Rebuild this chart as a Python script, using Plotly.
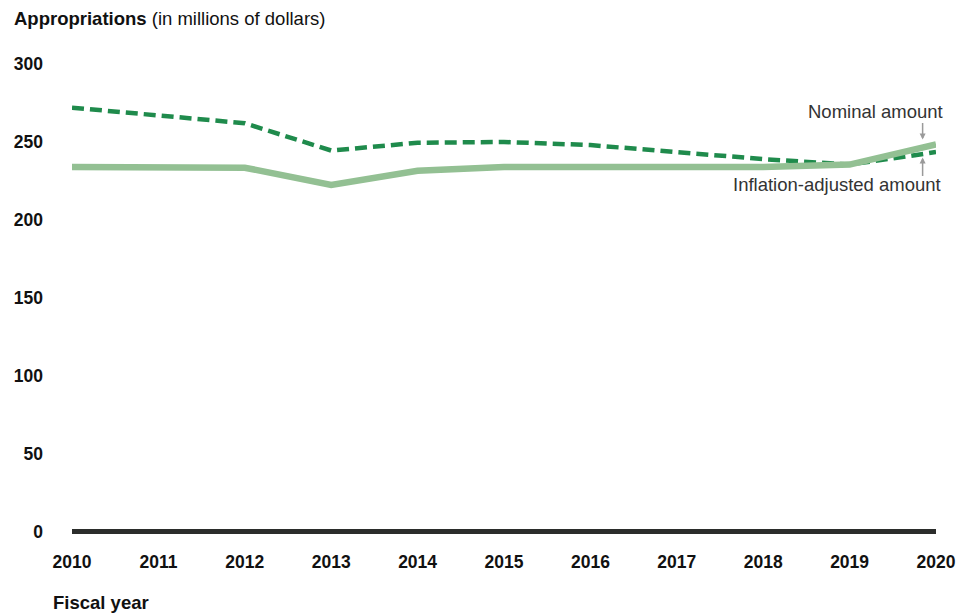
import plotly.graph_objects as go

years = [2010, 2011, 2012, 2013, 2014, 2015, 2016, 2017, 2018, 2019, 2020]
nominal = [234, 234, 233.5, 222.5, 231.5, 234, 234, 234, 234, 235.5, 248.5]
inflation_adjusted = [272, 267, 262, 244.5, 249.5, 250, 248, 243.5, 239, 235.5, 243.5]
y_ticks = [0, 50, 100, 150, 200, 250, 300]

FONT = "Liberation Sans, Arial, sans-serif"
TEXT = "#111111"

fig = go.Figure()
fig.add_trace(
    go.Scatter(
        x=years,
        y=inflation_adjusted,
        mode="lines",
        line=dict(color="#1f8b4c", width=4.5, dash="12px,6px"),
        name="Inflation-adjusted amount",
        cliponaxis=False,
    )
)
fig.add_trace(
    go.Scatter(
        x=years,
        y=nominal,
        mode="lines",
        line=dict(color="#93c093", width=6.5),
        name="Nominal amount",
        cliponaxis=False,
    )
)

fig.update_layout(
    width=972,
    height=614,
    margin=dict(l=72, r=36, t=64, b=76),
    plot_bgcolor="white",
    paper_bgcolor="white",
    showlegend=False,
    font=dict(family=FONT, color=TEXT),
    xaxis=dict(
        range=[2010, 2020],
        tickvals=years,
        showgrid=False,
        zeroline=False,
        showline=False,
        ticks="",
        ticklabelstandoff=11,
        tickfont=dict(size=17.5, weight="bold", color=TEXT),
    ),
    yaxis=dict(
        range=[-4, 300],
        tickvals=y_ticks,
        showgrid=False,
        zeroline=True,
        zerolinecolor="#2b2d2b",
        zerolinewidth=5,
        showline=False,
        ticks="",
        ticklabelstandoff=28,
        tickfont=dict(size=17.5, weight="bold", color=TEXT),
    ),
)

fig.add_annotation(
    x=0, y=1, xref="paper", yref="paper", xshift=-60, yshift=46,
    text="<b>Appropriations</b> (in millions of dollars)",
    showarrow=False, xanchor="left", yanchor="middle",
    font=dict(size=18.5, color=TEXT),
)
fig.add_annotation(
    x=0, y=0, xref="paper", yref="paper", xshift=-21, yshift=-64,
    text="<b>Fiscal year</b>",
    showarrow=False, xanchor="left", yanchor="middle",
    font=dict(size=18.5, color=TEXT),
)

# callout labels
fig.add_annotation(
    x=2020, y=269.3, text="Nominal amount", showarrow=False,
    xanchor="right", yanchor="middle", xshift=9,
    font=dict(size=18.5, color="#333333"),
)
fig.add_annotation(
    x=2020, y=222.5, text="Inflation-adjusted amount", showarrow=False,
    xanchor="right", yanchor="middle", xshift=7,
    font=dict(size=18.5, color="#333333"),
)
# small gray arrows
fig.add_annotation(
    x=2019.845, y=251.5, text="", showarrow=True,
    arrowhead=2, arrowsize=0.8, arrowwidth=1.5, arrowcolor="#9a9a9a",
    ax=0, ay=-18,
)
fig.add_annotation(
    x=2019.845, y=240, text="", showarrow=True,
    arrowhead=2, arrowsize=0.8, arrowwidth=1.5, arrowcolor="#9a9a9a",
    ax=0, ay=20,
)

fig.write_html(
    "out.html",
    config={"displayModeBar": False},
    post_script="document.body.style.margin='0';",
)
